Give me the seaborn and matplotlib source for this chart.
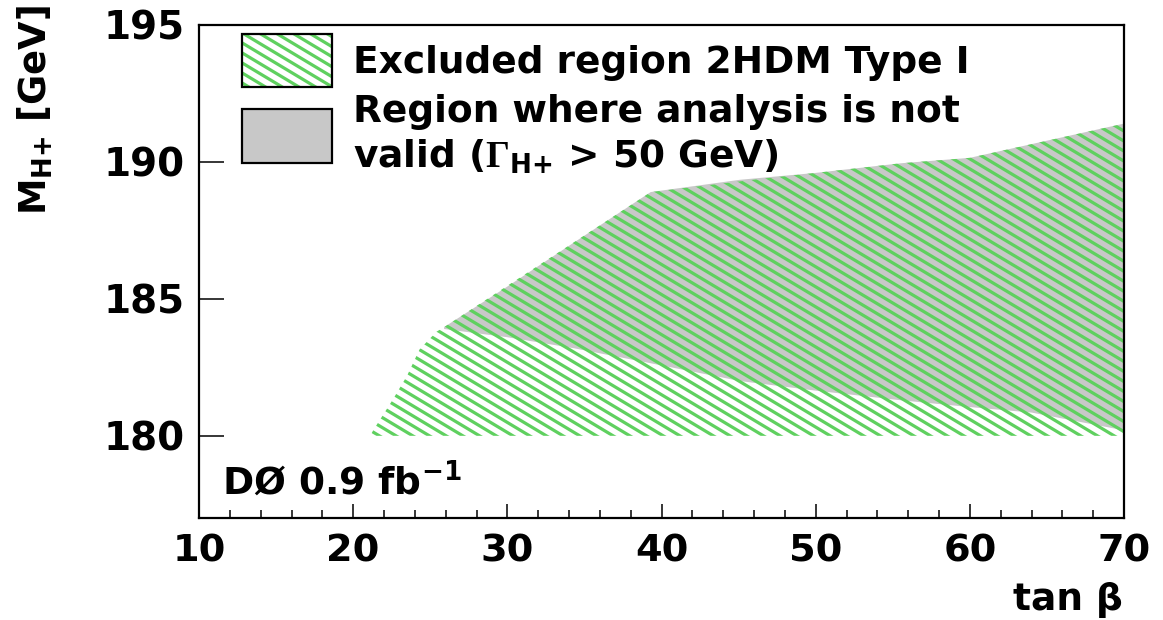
import numpy as np
import matplotlib
matplotlib.use("Agg")
import matplotlib.pyplot as plt
import seaborn as sns
from matplotlib.collections import LineCollection
from matplotlib.patches import Rectangle, Polygon
from matplotlib.ticker import MultipleLocator

# Excluded region (2HDM Type I): upper edge in (tan beta, M_H+), lower edge at 180 GeV
excl_tanb = [21.1, 21.3, 22.6, 23.5, 24.3, 25.4, 25.9, 39.3, 46.4, 50.0, 55.5, 60.0, 64.0, 70.0]
excl_upper = [180.0, 180.2, 181.35, 182.2, 183.15, 183.8, 183.97, 188.9, 189.38, 189.6,
              189.95, 190.15, 190.65, 191.4]
excl_lower = 180.0

# Region where the analysis is not valid (Gamma_H+ > 50 GeV)
grey_tanb = [25.9, 30.0, 34.3, 39.3, 45.1, 50.0, 55.5, 60.0, 64.0, 70.0]
grey_upper = [183.97, 185.45, 187.05, 188.9, 189.35, 189.6, 189.95, 190.15, 190.65, 191.4]
grey_lower = [183.9, 183.6, 183.2, 182.65, 182.0, 181.65, 181.3, 181.05, 180.85, 180.2]

x_ticks = [10, 20, 30, 40, 50, 60, 70]
y_ticks = [180, 185, 190, 195]

legend_labels = ["Excluded region 2HDM Type I",
                 "Region where analysis is not",
                 r"valid ($\mathrm{\Gamma}_{\mathbf{H{+}}}$ > 50 GeV)"]

HATCH_GREEN = "#5fd05f"
GREY = "#c8c8c8"

sns.set_theme(style="ticks")
plt.rcParams["font.family"] = ["DejaVu Sans"]
plt.rcParams["font.weight"] = "bold"
plt.rcParams["mathtext.fontset"] = "custom"
plt.rcParams["mathtext.rm"] = "Liberation Serif"
plt.rcParams["mathtext.bf"] = "DejaVu Sans:bold"
plt.rcParams["mathtext.it"] = "DejaVu Sans:italic:bold"

W, H, DPI = 1163, 620, 100
fig = plt.figure(figsize=(W / DPI, H / DPI), dpi=DPI)
fig.patch.set_facecolor("white")
ax = fig.add_axes([199 / W, 102 / H, 925 / W, 493 / H])
ax.set_facecolor("white")

ax.set_xlim(10, 70)
ax.set_ylim(177, 195)

# grey band first, hatch drawn over it
ax.fill_between(grey_tanb, grey_lower, grey_upper, facecolor=GREY, edgecolor="none",
                linewidth=0, zorder=1)

excl_poly = np.column_stack([excl_tanb + excl_tanb[::-1],
                             excl_upper + [excl_lower] * len(excl_tanb)])
excl_patch = Polygon(excl_poly, closed=True, facecolor="none", edgecolor="none",
                     transform=ax.transData)
ax.add_patch(excl_patch)

ax_w_px = 925.0
ax_h_px = 493.0
slope_px = 0.6      # drop per pixel to the right
step_x_px = 16.7    # horizontal spacing between hatch lines


def add_hatch(clip_patch, z):
    dy = step_x_px * slope_px
    segs = []
    c = -dy
    while c < ax_h_px + slope_px * ax_w_px + dy:
        segs.append([(0.0, c / ax_h_px), (1.0, (c - slope_px * ax_w_px) / ax_h_px)])
        c += dy
    lc = LineCollection(segs, colors=HATCH_GREEN, linewidths=2.3, transform=ax.transAxes,
                        zorder=z, capstyle="butt")
    ax.add_collection(lc)
    lc.set_clip_path(clip_patch)


add_hatch(excl_patch, 2)

# legend boxes, drawn in axes coordinates
x0, x1 = (242 - 199) / ax_w_px, (332 - 199) / ax_w_px
leg1 = Rectangle((x0, (518 - 87) / ax_h_px), x1 - x0, 53 / ax_h_px, transform=ax.transAxes,
                 facecolor="white", edgecolor="none", zorder=3)
ax.add_patch(leg1)
add_hatch(leg1, 3.5)
ax.add_patch(Rectangle((x0, (518 - 87) / ax_h_px), x1 - x0, 53 / ax_h_px,
                       transform=ax.transAxes, facecolor="none", edgecolor="black",
                       linewidth=1.6, zorder=4))
ax.add_patch(Rectangle((x0, (518 - 163) / ax_h_px), x1 - x0, 54 / ax_h_px,
                       transform=ax.transAxes, facecolor=GREY, edgecolor="black",
                       linewidth=1.6, zorder=4))

tx = (353 - 199) / ax_w_px
for label, base in zip(legend_labels, [73, 122, 168]):
    ax.text(tx, (518 - base) / ax_h_px, label, transform=ax.transAxes, ha="left",
            va="baseline", fontsize=27, fontweight="bold", color="black", zorder=5)

ax.text((222 - 199) / ax_w_px, (518 - 495) / ax_h_px, r"DØ 0.9 fb$^{\mathbf{-1}}$",
        transform=ax.transAxes, ha="left", va="baseline", fontsize=27,
        fontweight="bold", color="black", zorder=5)

# axes frame and ticks
for side in ["left", "right", "top", "bottom"]:
    ax.spines[side].set_visible(True)
    ax.spines[side].set_color("black")
    ax.spines[side].set_linewidth(1.6)
    ax.spines[side].set_zorder(6)

ax.set_xticks(x_ticks)
ax.set_yticks(y_ticks)
ax.xaxis.set_minor_locator(MultipleLocator(2))
ax.tick_params(axis="x", which="major", direction="in", length=10, width=1.1,
               labelsize=27.5, pad=11, colors="black", top=False, bottom=True)
ax.tick_params(axis="x", which="minor", direction="in", length=5.8, width=1.1,
               top=False, bottom=True, colors="black")
ax.tick_params(axis="y", which="major", direction="in", length=18, width=1.1,
               labelsize=28, pad=10, colors="black", left=True, right=False)
ax.tick_params(axis="y", which="minor", left=False, right=False)
for lab in ax.get_xticklabels() + ax.get_yticklabels():
    lab.set_fontweight("bold")

fig.text(35 / W, 1 - 5 / H, r"M$_{\mathbf{H{+}}}$ [GeV]", rotation=90, ha="center",
         va="top", fontsize=26.5, fontweight="bold", color="black")
fig.text(1123 / W, 1 - 600 / H, "tan β", ha="right", va="center",
         fontsize=27, fontweight="bold", color="black")

fig.savefig("out.png", dpi=DPI, facecolor="white")
